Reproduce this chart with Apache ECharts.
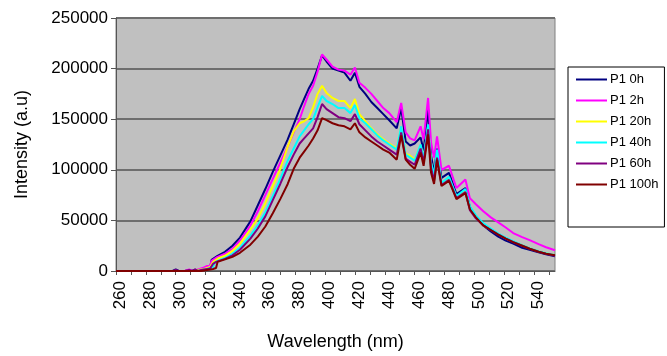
<!DOCTYPE html>
<html>
<head>
<meta charset="utf-8">
<script src="https://cdn.jsdelivr.net/npm/echarts@6/dist/echarts.min.js"></script>
<style>
html, body { margin: 0; padding: 0; background: #fff; }
#chart { width: 667px; height: 356px; }
</style>
</head>
<body>
<div id="chart"></div>
<script>
// wavelength (nm) of each sample
var wavelengths = [257, 280, 295, 297, 299, 303, 306, 308, 310, 312, 314, 316, 318, 320, 321, 322, 323, 324, 325, 326,
    330, 335, 340, 347, 352, 357, 362, 367, 372, 376, 380, 383, 386, 389, 392, 395, 398, 402, 406, 410,
    414, 417, 420, 424, 428, 432, 436, 440, 445, 448, 451, 454, 457, 461, 463, 466, 468, 470, 472, 475,
    480, 485, 491, 494, 498, 503, 508, 513, 518, 523, 529, 534, 540, 545, 551];

var p1_0h = [0, 0, 0, 1500, 0, 0, 800, 0, 1200, 0, 1500, 2000, 2500, 3000, 11000, 12000, 13000, 14000, 15000, 16000,
    19000, 25000, 33000, 49000, 65000, 81000, 98000, 114000, 130000, 145000, 160000, 170000, 180000, 188000, 200000, 213000, 207000, 200000, 198000, 196000,
    188000, 196000, 182000, 175000, 167000, 161000, 155000, 149000, 141000, 161000, 128000, 124000, 126000, 132000, 119000, 160000, 114000, 98000, 121000, 92000,
    97000, 76000, 82000, 63000, 54000, 45000, 39000, 34000, 30000, 27000, 23000, 21000, 18500, 16500, 14500];

var p1_2h = [0, 0, 0, 0, 0, 0, 1500, 0, 0, 1500, 2500, 3500, 5000, 5000, 10000, 11500, 12000, 13000, 14000, 15000,
    17000, 22000, 30000, 45000, 59000, 75000, 91000, 107000, 123000, 137000, 150000, 163000, 175000, 183000, 197000, 214000, 209000, 202000, 199000, 198000,
    194000, 201000, 186000, 181000, 175000, 168000, 161000, 156000, 147000, 166000, 137000, 131000, 129000, 143000, 130000, 171000, 127000, 112000, 133000, 100000,
    104000, 82000, 90500, 72000, 66000, 59000, 53000, 48000, 43000, 37500, 33500, 30500, 26500, 23500, 20500];

var p1_20h = [0, 0, 0, 0, 0, 0, 0, 0, 0, 1000, 1500, 2000, 3000, 4000, 5000, 9000, 10000, 11000, 12000, 13000,
    15000, 20000, 27000, 41000, 52000, 67000, 84000, 101000, 123000, 138000, 146000, 148000, 151000, 162000, 175000, 183000, 176000, 171000, 168000, 168000,
    161000, 170000, 155000, 148000, 141000, 135000, 130000, 126000, 121000, 142000, 116000, 114000, 110000, 124000, 111000, 143000, 107000, 90000, 117000, 86000,
    92000, 73000, 79000, 61000, 53000, 45000, 41000, 36500, 32500, 29000, 25500, 22500, 19500, 17500, 15500];

var p1_40h = [0, 0, 0, 0, 0, 0, 0, 0, 0, 0, 1000, 1500, 2000, 3000, 3500, 4000, 8000, 9000, 10000, 11000,
    13000, 17000, 23000, 35000, 45000, 58000, 74000, 91000, 109000, 121000, 133000, 139000, 145000, 150000, 162000, 173000, 168000, 165000, 161000, 161000,
    156000, 164000, 151000, 146000, 140000, 134000, 129000, 125000, 120000, 143000, 115000, 112000, 109000, 125000, 111000, 145000, 107000, 95000, 120000, 87000,
    93000, 74000, 81000, 64000, 55000, 47000, 42000, 37000, 33000, 29500, 25500, 22500, 19500, 17500, 15500];

var p1_60h = [0, 0, 0, 1000, 0, 0, 1000, 0, 1500, 0, 1000, 1500, 2000, 2500, 3000, 7000, 8000, 9000, 9500, 10000,
    12000, 15500, 21000, 32000, 42000, 54000, 70000, 86000, 103000, 115000, 126000, 131000, 136000, 141000, 152000, 165000, 160000, 156000, 152000, 151000,
    148000, 155000, 145000, 139000, 133000, 128000, 124000, 120000, 115000, 137000, 111000, 108000, 105000, 121000, 107000, 140000, 102000, 89000, 112000, 85000,
    90000, 72000, 78000, 60000, 52000, 45000, 40500, 36000, 32000, 28500, 25000, 22000, 19000, 17000, 15000];

var p1_100h = [0, 0, 0, 0, 0, 0, 0, 0, 0, 0, 0, 500, 1000, 1500, 2000, 2000, 2500, 3000, 9000, 10000,
    11500, 14000, 18000, 26000, 34000, 44000, 57000, 71000, 86000, 101000, 112000, 118000, 124000, 131000, 139000, 151000, 149000, 146000, 144000, 143000,
    140000, 146000, 137000, 132000, 128000, 124000, 120000, 117000, 110000, 134000, 110000, 105000, 101000, 117000, 104000, 135000, 97000, 86000, 110000, 84000,
    89000, 71000, 77000, 61000, 53000, 45000, 40500, 36000, 32000, 28500, 25000, 22000, 19000, 17000, 15500];

var seriesNames = ['P1 0h', 'P1 2h', 'P1 20h', 'P1 40h', 'P1 60h', 'P1 100h'];
var seriesColors = ['#000080', '#ff00ff', '#ffff00', '#00ffff', '#800080', '#800000'];
var xLabels = [260, 280, 300, 320, 340, 360, 380, 400, 420, 440, 460, 480, 500, 520, 540];
var xTicks = [257, 267, 277, 287, 297, 307, 317, 327, 337, 347, 357, 367, 377, 387, 397, 407, 417, 427, 437, 447,
    457, 467, 477, 487, 497, 507, 517, 527, 537, 547];

var allValues = [p1_0h, p1_2h, p1_20h, p1_40h, p1_60h, p1_100h];
var font = 'Liberation Sans, Arial, sans-serif';

function pairs(vals) {
    var out = [];
    for (var i = 0; i < wavelengths.length; i++) {
        out.push([wavelengths[i], vals[i]]);
    }
    return out;
}

var series = [];
for (var i = 0; i < seriesNames.length; i++) {
    series.push({
        name: seriesNames[i],
        type: 'line',
        symbol: 'none',
        animation: false,
        data: pairs(allValues[i]),
        lineStyle: { color: seriesColors[i], width: 2 },
        itemStyle: { color: seriesColors[i] }
    });
}

var myChart = echarts.init(document.getElementById('chart'), null, { renderer: 'canvas' });
var option = {
    animation: false,
    textStyle: { fontFamily: font },
    grid: {
        left: 116, right: 112, top: 18, bottom: 83,
        show: true,
        backgroundColor: '#c0c0c0',
        borderColor: '#808080',
        borderWidth: 1
    },
    legend: {
        orient: 'vertical',
        left: 568,
        top: 67,
        icon: 'rect',
        itemWidth: 31,
        itemHeight: 2,
        itemGap: 8,
        padding: [6, 6, 36, 8],
        borderColor: '#000',
        borderWidth: 1,
        backgroundColor: '#fff',
        textStyle: { fontFamily: font, fontSize: 13, color: '#000', padding: [0, 0, 0, -2] },
        data: seriesNames
    },
    xAxis: {
        type: 'value',
        min: 257,
        max: 551,
        name: 'Wavelength (nm)',
        nameLocation: 'middle',
        nameGap: 62,
        nameTextStyle: { fontFamily: font, fontSize: 18, color: '#000' },
        axisLine: { onZero: false, lineStyle: { color: '#555', width: 1 } },
        axisTick: { show: true, inside: false, length: 4, customValues: xTicks, lineStyle: { color: '#555' } },
        axisLabel: { customValues: xLabels, rotate: 90, margin: 10, fontSize: 17, color: '#000', fontFamily: font },
        splitLine: { show: false }
    },
    yAxis: {
        type: 'value',
        min: 0,
        max: 250000,
        interval: 50000,
        name: 'Intensity (a.u)',
        nameLocation: 'middle',
        nameGap: 85,
        nameTextStyle: { fontFamily: font, fontSize: 18, color: '#000' },
        axisLine: { show: true, lineStyle: { color: '#555', width: 1 } },
        axisTick: { show: true, inside: false, length: 5, lineStyle: { color: '#555' } },
        axisLabel: {
            fontSize: 17, color: '#000', margin: 8, fontFamily: font,
            formatter: function (v) { return String(v); }
        },
        splitLine: { show: true, lineStyle: { color: '#6e6e6e', width: 2 } }
    },
    series: series
};
myChart.setOption(option);
</script>
</body>
</html>
